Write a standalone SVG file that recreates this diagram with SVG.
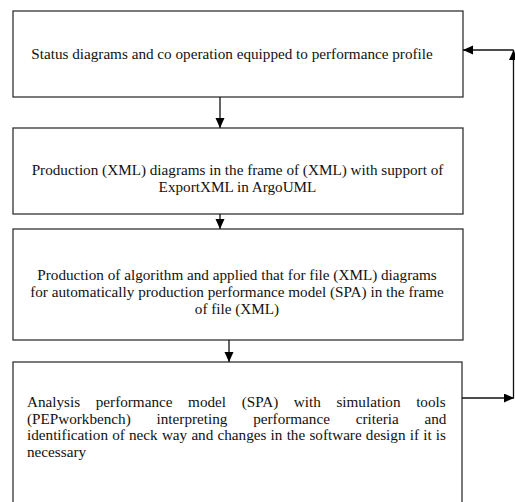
<svg xmlns="http://www.w3.org/2000/svg" width="515" height="502" viewBox="0 0 515 502">
<style>
.box{fill:#fff;stroke:#333;stroke-width:1.3}
.t{font-family:"Liberation Serif","Times New Roman",serif;font-size:15.2px;fill:#111}
.c{text-anchor:middle}
.con{fill:none;stroke:#111;stroke-width:1.3}
</style>
<defs>
<marker id="ah" markerUnits="userSpaceOnUse" markerWidth="10" markerHeight="10" refX="10" refY="4.5" orient="auto">
<path d="M0,0 L10,4.5 L0,9 z" fill="#000"/>
</marker>
</defs>
<rect x="0" y="0" width="515" height="502" fill="#fff"/>
<g id="n1">
<rect class="box" x="13" y="11" width="450" height="86"/>
<text class="t c" x="232" y="59">Status diagrams and co operation equipped to performance profile</text>
</g>
<g id="n2">
<rect class="box" x="13" y="128" width="450" height="86"/>
<text class="t c" x="237.5" y="175">Production (XML) diagrams in the frame of (XML) with support of</text>
<text class="t c" x="237.5" y="192">ExportXML in ArgoUML</text>
</g>
<g id="n3">
<rect class="box" x="13" y="229" width="450" height="111"/>
<text class="t c" x="237" y="280">Production of algorithm and applied that for file (XML) diagrams</text>
<text class="t c" x="237" y="297">for automatically production performance model (SPA) in the frame</text>
<text class="t c" x="237" y="314">of file (XML)</text>
</g>
<g id="n4">
<rect class="box" x="13" y="362" width="449" height="150"/>
<text class="t" x="27" y="407" word-spacing="11.8">Analysis performance model (SPA) with simulation tools</text>
<text class="t" x="27" y="423.5" word-spacing="22">(PEPworkbench) interpreting performance criteria and</text>
<text class="t" x="27" y="440" word-spacing="0.4">identification of neck way and changes in the software design if it is</text>
<text class="t" x="27" y="457">necessary</text>
</g>
<g id="connectors">
<path class="con" d="M220,97 L220,128" marker-end="url(#ah)"/>
<path class="con" d="M220,214 L220,229" marker-end="url(#ah)"/>
<path class="con" d="M229,340 L229,362" marker-end="url(#ah)"/>
<path class="con" d="M462,398 L514,398" marker-end="url(#ah)"/>
<path class="con" d="M513.5,398 L513.5,50" marker-end="url(#ah)"/>
<path class="con" d="M513.5,50 L463,50" marker-end="url(#ah)"/>
</g>
</svg>
